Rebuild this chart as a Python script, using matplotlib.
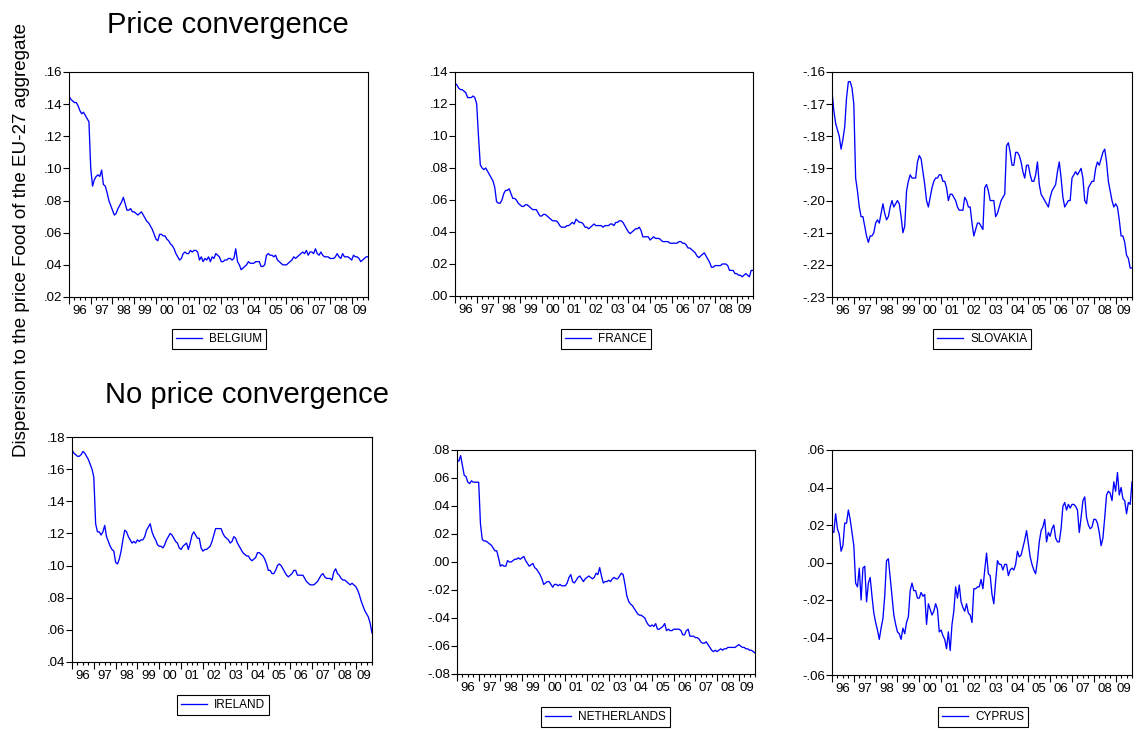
import numpy as np
import pandas as pd
import matplotlib
matplotlib.use("Agg")
import matplotlib.pyplot as plt
import matplotlib.transforms as mtransforms
from matplotlib.ticker import FuncFormatter, FixedLocator

plt.rcParams['font.family'] = ['Liberation Sans', 'DejaVu Sans']

# ---------------- data (monthly, 1996M01 - 2009M10) ----------------
start_month = "1996-01"
n_months = 166

belgium = [
    .145, .143, .142, .141, .141, .139, .136, .134, .135, .133, .131, .129,
    .100, .089, .093, .095, .096, .095, .099, .090, .089, .085, .080, .077,
    .074, .071, .072, .075, .077, .079, .082, .078, .074, .074, .075, .073,
    .073, .072, .071, .072, .073, .071, .069, .067, .066, .064, .062, .059,
    .056, .055, .059, .059, .058, .058, .056, .055, .053, .052, .050, .047,
    .045, .043, .044, .047, .048, .047, .047, .049, .048, .049, .049, .048,
    .043, .045, .042, .044, .043, .045, .042, .045, .044, .047, .046, .045,
    .042, .042, .043, .043, .044, .044, .043, .044, .050, .042, .040, .037,
    .038, .039, .040, .042, .041, .041, .041, .042, .042, .042, .039, .039,
    .040, .046, .047, .046, .046, .045, .046, .043, .042, .041, .040, .040,
    .040, .041, .042, .043, .045, .044, .045, .046, .047, .048, .047, .049,
    .046, .048, .048, .047, .050, .047, .046, .048, .046, .045, .045, .045,
    .044, .044, .044, .045, .047, .045, .044, .047, .045, .045, .045, .044,
    .043, .046, .045, .045, .044, .042, .043, .044, .045, .045,
]

france = [
    .133, .132, .130, .129, .129, .128, .127, .124, .124, .124, .125, .124,
    .120, .100, .082, .080, .079, .080, .078, .076, .074, .072, .068, .059,
    .058, .058, .060, .064, .066, .066, .067, .064, .061, .061, .060, .058,
    .057, .056, .056, .057, .057, .056, .055, .054, .054, .054, .052, .050,
    .050, .051, .051, .050, .049, .048, .047, .047, .047, .046, .044, .043,
    .043, .043, .044, .044, .045, .046, .045, .048, .047, .046, .046, .045,
    .043, .043, .042, .043, .044, .045, .044, .044, .044, .044, .043, .044,
    .044, .044, .045, .045, .044, .046, .046, .047, .047, .046, .044, .042,
    .040, .039, .040, .041, .042, .042, .043, .041, .037, .037, .037, .037,
    .035, .036, .037, .036, .036, .036, .035, .034, .034, .034, .034, .033,
    .033, .033, .033, .033, .034, .034, .033, .033, .032, .030, .030, .029,
    .028, .027, .025, .024, .025, .026, .027, .025, .023, .021, .018, .018,
    .019, .019, .019, .019, .020, .020, .020, .019, .016, .016, .016, .014,
    .014, .013, .013, .012, .013, .014, .013, .012, .016, .016,
]

slovakia = [
    -.166, -.172, -.176, -.178, -.180, -.184, -.181, -.177, -.168, -.163, -.163, -.165,
    -.170, -.193, -.197, -.202, -.205, -.205, -.208, -.211, -.213, -.211, -.211, -.210,
    -.207, -.206, -.207, -.204, -.201, -.204, -.206, -.205, -.202, -.200, -.202, -.201,
    -.200, -.201, -.205, -.210, -.208, -.197, -.194, -.192, -.193, -.193, -.193, -.188,
    -.186, -.187, -.191, -.195, -.200, -.202, -.199, -.196, -.194, -.193, -.193, -.192,
    -.192, -.194, -.194, -.196, -.200, -.198, -.198, -.199, -.200, -.202, -.203, -.203,
    -.203, -.199, -.200, -.202, -.202, -.207, -.211, -.209, -.207, -.207, -.208, -.209,
    -.196, -.195, -.197, -.200, -.200, -.200, -.205, -.204, -.202, -.200, -.199, -.198,
    -.183, -.182, -.185, -.189, -.189, -.185, -.185, -.186, -.188, -.191, -.193, -.189,
    -.189, -.192, -.194, -.194, -.192, -.188, -.195, -.198, -.199, -.200, -.201, -.202,
    -.199, -.197, -.196, -.195, -.191, -.188, -.193, -.199, -.202, -.201, -.200, -.200,
    -.193, -.192, -.191, -.192, -.191, -.190, -.193, -.200, -.201, -.196, -.195, -.194,
    -.194, -.190, -.188, -.189, -.187, -.185, -.184, -.188, -.194, -.197, -.200, -.202,
    -.201, -.202, -.206, -.211, -.211, -.213, -.217, -.218, -.221, -.221,
]

ireland = [
    .172, .170, .169, .168, .168, .169, .171, .170, .168, .166, .163, .160,
    .155, .126, .121, .121, .119, .121, .125, .118, .115, .112, .110, .109,
    .102, .101, .104, .109, .116, .122, .121, .118, .116, .114, .115, .114,
    .116, .115, .116, .116, .118, .122, .124, .126, .121, .118, .116, .113,
    .112, .112, .111, .113, .116, .118, .120, .119, .117, .115, .114, .111,
    .110, .112, .113, .114, .110, .114, .119, .121, .119, .117, .117, .111,
    .109, .110, .110, .111, .112, .115, .119, .123, .123, .123, .123, .120,
    .118, .117, .116, .114, .115, .118, .117, .114, .112, .110, .108, .107,
    .106, .106, .104, .103, .104, .105, .108, .108, .107, .106, .104, .101,
    .097, .097, .095, .095, .097, .100, .101, .100, .098, .096, .094, .093,
    .094, .095, .097, .097, .094, .094, .094, .094, .092, .090, .089, .088,
    .088, .088, .089, .090, .092, .094, .095, .093, .092, .092, .092, .091,
    .096, .098, .095, .094, .092, .091, .091, .090, .089, .088, .089, .088,
    .087, .085, .082, .078, .075, .072, .070, .068, .064, .058,
]

netherlands = [
    .073, .072, .076, .069, .062, .061, .057, .056, .058, .057, .057, .057,
    .057, .027, .016, .015, .015, .014, .013, .012, .010, .008, .008, .003,
    -.003, -.002, -.003, -.003, .001, .000, .000, .001, .002, .002, .003, .002,
    .003, .004, .001, -.001, -.003, -.002, -.001, -.004, -.005, -.007, -.009, -.012,
    -.016, -.015, -.014, -.014, -.016, -.018, -.016, -.016, -.017, -.016, -.017, -.017,
    -.017, -.015, -.011, -.009, -.014, -.015, -.013, -.011, -.010, -.012, -.014, -.012,
    -.011, -.010, -.011, -.012, -.011, -.008, -.009, -.004, -.010, -.015, -.014, -.014,
    -.013, -.014, -.012, -.011, -.012, -.012, -.010, -.008, -.009, -.016, -.024, -.028,
    -.030, -.031, -.033, -.035, -.037, -.038, -.038, -.039, -.040, -.043, -.045, -.046,
    -.045, -.046, -.044, -.048, -.048, -.047, -.046, -.044, -.049, -.048, -.049, -.049,
    -.048, -.048, -.048, -.048, -.049, -.052, -.052, -.049, -.048, -.053, -.053, -.053,
    -.054, -.054, -.055, -.057, -.058, -.058, -.057, -.059, -.061, -.063, -.064, -.063,
    -.064, -.063, -.062, -.063, -.062, -.062, -.061, -.061, -.061, -.061, -.061, -.060,
    -.059, -.060, -.061, -.061, -.062, -.062, -.063, -.063, -.064, -.065,
]

cyprus = [
    .017, .016, .026, .018, .015, .006, .009, .021, .021, .028, .023, .016,
    .009, -.011, -.013, -.003, -.020, -.003, -.002, -.021, -.011, -.008, -.018, -.027,
    -.032, -.036, -.041, -.035, -.030, -.018, .001, .002, -.008, -.018, -.028, -.033,
    -.037, -.038, -.041, -.035, -.038, -.032, -.029, -.015, -.011, -.015, -.015, -.019,
    -.019, -.016, -.018, -.017, -.033, -.022, -.025, -.028, -.026, -.022, -.025, -.037,
    -.036, -.039, -.041, -.046, -.037, -.047, -.033, -.026, -.013, -.019, -.012, -.021,
    -.024, -.026, -.022, -.027, -.028, -.032, -.014, -.014, -.013, -.013, -.009, -.014,
    -.004, .005, -.006, -.007, -.017, -.022, -.010, .001, -.001, -.001, -.004, -.001,
    -.001, -.007, -.004, -.003, -.004, -.001, .006, .003, .004, .008, .012, .017,
    .010, .003, -.001, -.004, -.006, .001, .011, .017, .019, .023, .011, .016,
    .014, .018, .020, .013, .011, .011, .018, .030, .032, .028, .031, .029,
    .031, .031, .030, .028, .016, .024, .033, .035, .024, .020, .018, .019,
    .023, .023, .021, .016, .009, .013, .024, .036, .038, .037, .033, .043,
    .038, .048, .036, .040, .034, .033, .026, .032, .031, .043,
]

countries = ["BELGIUM", "FRANCE", "SLOVAKIA", "IRELAND", "NETHERLANDS", "CYPRUS"]
series = [belgium, france, slovakia, ireland, netherlands, cyprus]
y_limits = [(.02, .16), (.00, .14), (-.23, -.16), (.04, .18), (-.08, .08), (-.06, .06)]
y_steps = [.02, .02, .01, .02, .02, .02]
year_labels = ["96", "97", "98", "99", "00", "01", "02", "03", "04", "05", "06", "07", "08", "09"]

title_top = "Price convergence"
title_bottom = "No price convergence"
y_title = "Dispersion to the price Food of the EU-27 aggregate"

# ---------------- layout ----------------
W, H = 1136, 731
fig = plt.figure(figsize=(W / 100, H / 100), dpi=100)

# axes boxes in pixels: left, top, right, bottom
boxes = [
    (69, 72, 368, 297),
    (455, 72, 753, 296),
    (832, 72, 1132, 297),
    (72, 437, 372, 662),
    (457, 450, 755, 674),
    (832, 450, 1132, 675),
]
# legend upper-left corners, pixels
legend_pos = [(172, 329), (561, 329), (933, 329), (177, 695), (541, 707), (938, 707)]

dates = pd.date_range(start_month, periods=n_months, freq="MS")
xdec = dates.year + (dates.month - 1) / 12.0
x0, x1 = xdec[0], xdec[-1]


def fmt(v, pos=None):
    s = f"{v:.2f}"
    if s.startswith("-0."):
        s = "-" + s[2:]
    elif s.startswith("0."):
        s = s[1:]
    if s == "-.00":
        s = ".00"
    return s


for k in range(6):
    l, t, r, b = boxes[k]
    ax = fig.add_axes([l / W, 1 - b / H, (r - l) / W, (b - t) / H])
    ax.plot(xdec, series[k], color=(0, 0, 1), lw=0.95, label=countries[k])
    ax.set_xlim(x0, x1)
    lo, hi = y_limits[k]
    ax.set_ylim(lo, hi)
    yt = np.round(np.arange(lo, hi + y_steps[k] / 2, y_steps[k]), 4)
    ax.yaxis.set_major_locator(FixedLocator(yt))
    ax.yaxis.set_major_formatter(FuncFormatter(fmt))

    years = np.arange(1996, 2010)
    ax.set_xticks(years)
    ax.set_xticklabels([])
    ax.set_xticks(np.arange(1996, x1 + 0.01, 0.25), minor=True)
    ax.tick_params(axis="x", which="major", direction="out", length=5, width=0.8, top=False)
    ax.tick_params(axis="x", which="minor", direction="out", length=2.5, width=0.8, top=False)
    ax.tick_params(axis="y", which="major", direction="out", length=4, width=0.8,
                   labelsize=9.5, pad=1, right=False)
    for sp in ax.spines.values():
        sp.set_linewidth(0.8)
        sp.set_color("black")

    trans = mtransforms.blended_transform_factory(ax.transData, ax.transAxes)
    off = mtransforms.ScaledTranslation(0, -6 / 72, fig.dpi_scale_trans)
    for yr, lab in zip(years, year_labels):
        xe = min(yr + 1, x1)
        ax.text((yr + xe) / 2, 0, lab, transform=trans + off, ha="center", va="top",
                fontsize=9.5)

    lx, ly = legend_pos[k]
    leg = ax.legend(loc="upper left", bbox_to_anchor=(lx / W, 1 - ly / H),
                    bbox_transform=fig.transFigure, borderaxespad=0,
                    fontsize=8.5, handlelength=2.2, handletextpad=0.6,
                    borderpad=0.35, fancybox=False, framealpha=1,
                    edgecolor="black")
    leg.get_frame().set_linewidth(0.8)

fig.text(107 / W, 1 - 33 / H, title_top, fontsize=21, ha="left", va="baseline")
fig.text(105 / W, 1 - 403 / H, title_bottom, fontsize=21, ha="left", va="baseline")
fig.text(22 / W, 1 - 240 / H, y_title, fontsize=13.5, rotation=90, ha="center", va="center")

fig.savefig("out.png", dpi=100)
